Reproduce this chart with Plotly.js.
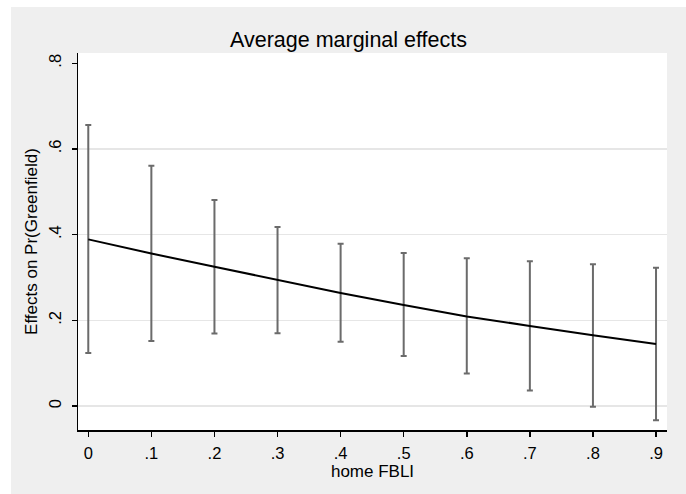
<!DOCTYPE html>
<html>
<head>
<meta charset="utf-8">
<script src="https://cdn.plot.ly/plotly-3.0.1.min.js"></script>
<style>
html, body { margin: 0; padding: 0; background: #ffffff; width: 686px; height: 494px; overflow: hidden; }
#chart { position: absolute; left: 11px; top: 7px; width: 675px; height: 487px; }
</style>
</head>
<body>
<div id="chart"></div>
<script>
// Data
var homeFBLI = [0, 0.1, 0.2, 0.3, 0.4, 0.5, 0.6, 0.7, 0.8, 0.9];
var effect   = [0.389, 0.356, 0.325, 0.294, 0.264, 0.236, 0.209, 0.187, 0.165, 0.145];
var ciUpper  = [0.656, 0.561, 0.481, 0.418, 0.379, 0.357, 0.345, 0.338, 0.331, 0.323];
var ciLower  = [0.124, 0.152, 0.169, 0.170, 0.150, 0.117, 0.076, 0.036, -0.002, -0.033];
var xTickVals = [0, 0.1, 0.2, 0.3, 0.4, 0.5, 0.6, 0.7, 0.8, 0.9];
var xTickText = ["0", ".1", ".2", ".3", ".4", ".5", ".6", ".7", ".8", ".9"];
var yTickVals = [0, 0.2, 0.4, 0.6, 0.8];
var yTickText = ["0", ".2", ".4", ".6", ".8"];
var yGridVals = [0, 0.2, 0.4, 0.6];

var errPlus = ciUpper.map(function (u, i) { return u - effect[i]; });
var errMinus = ciLower.map(function (l, i) { return effect[i] - l; });

var font = "Liberation Sans, Arial, Helvetica, sans-serif";

var traces = [
  {
    x: homeFBLI, y: effect, type: "scatter", mode: "markers",
    marker: { size: 1, opacity: 0 },
    error_y: { type: "data", symmetric: false, array: errPlus, arrayminus: errMinus,
               color: "#6b6b6b", thickness: 2, width: 3 },
    hoverinfo: "skip", showlegend: false
  },
  {
    x: homeFBLI, y: effect, type: "scatter", mode: "lines",
    line: { color: "#000000", width: 2 },
    showlegend: false
  },
  {
    x: [homeFBLI[0]], y: [effect[0]], type: "scatter", mode: "markers",
    marker: { size: 1, opacity: 0 }, yaxis: "y2", hoverinfo: "skip", showlegend: false
  }
];

var layout = {
  width: 675, height: 487,
  paper_bgcolor: "#efefef",
  plot_bgcolor: "#ffffff",
  margin: { l: 67, r: 19, t: 46, b: 64 },
  font: { family: font, color: "#000000" },
  title: { text: "Average marginal effects", font: { family: font, size: 21.5, color: "#000000" },
           x: 0.5, xanchor: "center", xref: "container", y: 1 - 32 / 487, yanchor: "middle" },
  xaxis: {
    range: [-0.0163, 0.9174], tickvals: xTickVals, ticktext: xTickText,
    showgrid: false, zeroline: false,
    showline: true, linecolor: "#000000", linewidth: 1.5,
    ticks: "outside", ticklen: 5, tickwidth: 1.5, tickcolor: "#000000",
    ticklabelstandoff: 3,
    tickfont: { family: font, size: 16.5, color: "#000000" },
    title: { text: "home FBLI", font: { family: font, size: 17, color: "#000000" }, standoff: 1 }
  },
  yaxis: {
    range: [-0.056, 0.824], tickvals: yTickVals, ticktext: yTickText,
    showgrid: false, zeroline: false,
    showline: true, linecolor: "#000000", linewidth: 1.5,
    ticks: "outside", ticklen: 5, tickwidth: 1.5, tickcolor: "#000000",
    tickangle: -90, ticklabelstandoff: 4,
    tickfont: { family: font, size: 16.5, color: "#000000" },
    title: { text: "Effects on Pr(Greenfield)", font: { family: font, size: 17, color: "#000000" }, standoff: 4 }
  },
  yaxis2: {
    overlaying: "y", range: [-0.056, 0.824], tickvals: yGridVals,
    showticklabels: false, ticks: "", showgrid: true, gridcolor: "#e6e6e6", gridwidth: 1.2,
    zeroline: false, showline: false, layer: "below traces"
  },
  showlegend: false
};

Plotly.newPlot("chart", traces, layout, { displayModeBar: false, staticPlot: true });
</script>
</body>
</html>
